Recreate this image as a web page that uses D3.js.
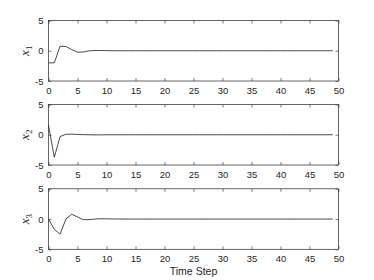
<!DOCTYPE html>
<html>
<head>
<meta charset="utf-8">
<script src="https://cdn.jsdelivr.net/npm/d3@7"></script>
<style>
	html, body { margin: 0; padding: 0; background: #fff; }
	svg { display: block; }
	.tick text { font-family: "Liberation Sans", Arial, sans-serif; font-size: 9.5px; fill: #262626; }
</style>
</head>
<body>
<div id="chart"></div>
<script>
// time steps 0..49
var steps = [0,1,2,3,4,5,6,7,8,9,10,11,12,13,14,15,16,17,18,19,20,21,22,23,24,
	25,26,27,28,29,30,31,32,33,34,35,36,37,38,39,40,41,42,43,44,45,46,47,48,49];

var x1 = [-2, -2, 0.75, 0.7, 0.2, -0.25, -0.2, -0.02, 0.05, 0.04, 0.02, 0.01, 0, 0, 0, 0, 0, 0, 0, 0,
	0, 0, 0, 0, 0, 0, 0, 0, 0, 0, 0, 0, 0, 0, 0, 0, 0, 0, 0, 0, 0, 0, 0, 0, 0, 0, 0, 0, 0, 0];
var x2 = [1.6, -3.7, -0.3, 0.08, 0.1, 0.05, 0.02, 0, -0.02, -0.02, -0.01, 0, 0, 0, 0, 0, 0, 0, 0, 0,
	0, 0, 0, 0, 0, 0, 0, 0, 0, 0, 0, 0, 0, 0, 0, 0, 0, 0, 0, 0, 0, 0, 0, 0, 0, 0, 0, 0, 0, 0];
var x3 = [0, -1.7, -2.5, 0, 0.8, 0.35, -0.1, -0.1, 0, 0.05, 0.04, 0.02, 0.01, 0, 0, 0, 0, 0, 0, 0,
	0, 0, 0, 0, 0, 0, 0, 0, 0, 0, 0, 0, 0, 0, 0, 0, 0, 0, 0, 0, 0, 0, 0, 0, 0, 0, 0, 0, 0, 0];

var xTicks = [0, 5, 10, 15, 20, 25, 30, 35, 40, 45, 50];
var yTicks = [-5, 0, 5];
var subs = ["1", "2", "3"];

var width = 374, height = 280;
var left = 48.5, right = 338.5;
var panelTops = [20.5, 104.5, 188.8];
var panelH = 60.5;
var axisColor = "#262626";

var svg = d3.select("#chart").append("svg")
	.attr("width", width)
	.attr("height", height);

var x = d3.scaleLinear().domain([0, 50]).range([left, right]);
var plain = function(d) { return String(d); };

[x1, x2, x3].forEach(function(series, i) {
	var top = panelTops[i];
	var y = d3.scaleLinear().domain([-5, 5]).range([top + panelH, top]);
	var g = svg.append("g");

	// data line
	var line = d3.line()
		.x(function(d, j) { return x(steps[j]); })
		.y(function(d) { return y(d); });

	g.append("path")
		.datum(series)
		.attr("fill", "none")
		.attr("stroke", "#1a1a1a")
		.attr("stroke-width", 0.8)
		.attr("d", line);

	// axes, ticks point inward
	g.append("g")
		.attr("transform", "translate(0," + (top + panelH) + ")")
		.call(d3.axisBottom(x).tickValues(xTicks).tickFormat(plain).tickSizeInner(-3).tickSizeOuter(0).tickPadding(6))
		.call(function(a) { a.select(".domain").remove(); });
	g.append("g")
		.attr("transform", "translate(0," + top + ")")
		.call(d3.axisTop(x).tickValues(xTicks).tickSizeInner(-3).tickSizeOuter(0).tickFormat(""))
		.call(function(a) { a.select(".domain").remove(); });
	g.append("g")
		.attr("transform", "translate(" + left + ",0)")
		.call(d3.axisLeft(y).tickValues(yTicks).tickFormat(plain).tickSizeInner(-3).tickSizeOuter(0).tickPadding(5))
		.call(function(a) { a.select(".domain").remove(); });
	g.append("g")
		.attr("transform", "translate(" + right + ",0)")
		.call(d3.axisRight(y).tickValues(yTicks).tickSizeInner(-3).tickSizeOuter(0).tickFormat(""))
		.call(function(a) { a.select(".domain").remove(); });

	g.selectAll(".tick line").attr("stroke", axisColor).attr("stroke-width", 0.6);

	// box
	g.append("rect")
		.attr("x", left)
		.attr("y", top)
		.attr("width", right - left)
		.attr("height", panelH)
		.attr("fill", "none")
		.attr("stroke", axisColor)
		.attr("stroke-width", 0.7);

	// y label, like latex x_i
	var lab = g.append("text")
		.attr("transform", "translate(29," + (top + panelH / 2) + ") rotate(-90)")
		.attr("text-anchor", "middle")
		.attr("font-family", "'Liberation Serif', 'DejaVu Serif', serif")
		.attr("font-size", "13px")
		.attr("fill", axisColor);
	lab.append("tspan").attr("font-style", "italic").text("x");
	lab.append("tspan").attr("font-size", "9px").attr("dy", 2.5).text(subs[i]);
});

svg.append("text")
	.attr("x", (left + right) / 2)
	.attr("y", 275)
	.attr("text-anchor", "middle")
	.attr("font-family", "'Liberation Sans', Arial, sans-serif")
	.attr("font-size", "10.5px")
	.attr("fill", axisColor)
	.text("Time Step");
</script>
</body>
</html>
